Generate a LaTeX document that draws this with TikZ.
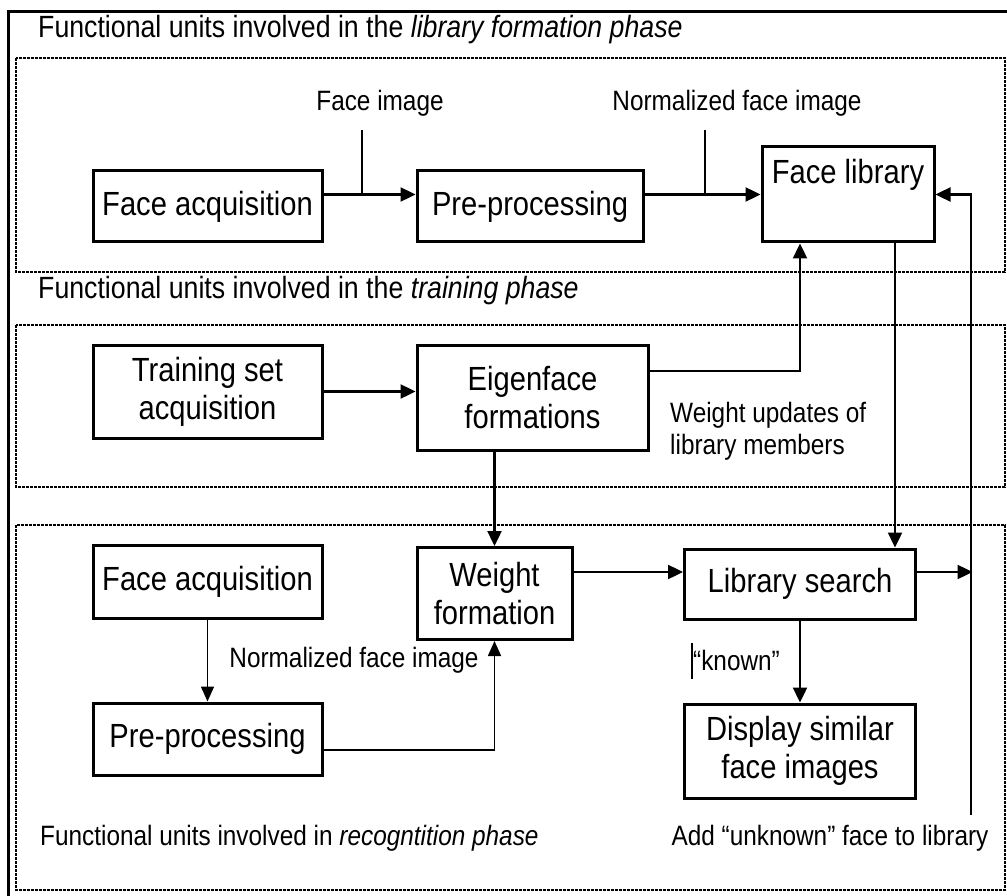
\documentclass[tikz,border=0pt]{standalone}
\usepackage{fontspec}
\setmainfont[FakeStretch=0.87]{Liberation Sans}
\usepackage{tikz}
\usetikzlibrary{arrows.meta}
\usetikzlibrary{calc}

\begin{document}
\begin{tikzpicture}[
        x=1pt, y=-1pt,
        block/.style={rectangle, draw=black, line width=3pt, minimum width=229pt, minimum height=72pt, inner sep=2pt, align=center, font=\fontsize{33.5}{38}\selectfont},
        blocktext/.style={inner sep=0pt, font=\fontsize{33.5}{38}\selectfont},
        phase/.style={anchor=west, inner sep=0pt, font=\fontsize{30.7}{36}\selectfont},
        note/.style={inner sep=0pt, font=\fontsize{28}{32}\selectfont},
        panel/.style={line width=2.2pt, dash pattern=on 3pt off 1pt},
        arrow/.style={line width=2.4pt, -{Triangle[length=15pt,width=14pt]}},
        thinarrow/.style={line width=1.6pt, -{Triangle[length=15pt,width=13pt]}},
        leader/.style={line width=1.2pt}
    ]
        \useasboundingbox (0,0) rectangle (1007,896);
        \clip (0,0) rectangle (1007,896);

        % ===== 外框与分区 =====
        \draw [line width=3pt] (1010,12) -| (8,900);
        \draw [panel] (16,58) rectangle (1005,272);
        \draw [panel] (16,325) rectangle (1005,487);
        \draw [panel] (16,525) rectangle (1005,890);

        \node (titleLib) [phase] at (38,30) {Functional units involved in the \textit{library formation phase}};
        \node (titleTrain) [phase] at (38,291) {Functional units involved in the \textit{training phase}};
        \node (titleRec) [note, anchor=west] at (40,838) {Functional units involved in \textit{recogntition phase}};

        % ===== 人脸库建立 =====
        \node (faceAcq) [block, minimum height=71pt] at (207.5,206.5) {Face acquisition};
        \node (preProc) [block, minimum width=226pt, minimum height=71pt] at (530,206.5) {Pre-processing};
        \node (faceLib) [block, minimum width=172pt, minimum height=95pt] at (848,194.5) {};
        \node (faceLibText) [blocktext] at ($(faceLib.north)+(0,29)$) {Face library};

        \node (faceImg) [note] at (380,103) {Face image};
        \node (normImg) [note] at (737,103) {Normalized face image};

        % ===== 训练 =====
        \node (trainAcq) [block, minimum height=93pt] at (207.5,391.5) {Training set\\acquisition};
        \node (eigen) [block, minimum width=231pt, minimum height=105pt] at (532.5,397.5) {Eigenface\\formations};
        \node (updates) [note, align=left, anchor=west] at (670,431) {Weight updates of\\library members};

        % ===== 识别 =====
        \node (faceAcqRec) [block, minimum height=73pt] at (207.5,582) {Face acquisition};
        \node (weightForm) [block, minimum width=155pt, minimum height=92pt] at (494.5,593.5) {Weight\\formation};
        \node (libSearch) [block, minimum width=231pt, minimum height=70pt] at (800,584) {Library search};
        \node (preProcRec) [block] at (207.5,739) {Pre-processing};
        \node (display) [block, minimum width=231pt, minimum height=94pt] at (800,751) {Display similar\\face images};

        \node (normImgRec) [note] at (354,660) {Normalized face image};
        \node (known) [note, anchor=west] at (693,660) {“known”};
        \node (addUnknown) [note] at (830,838) {Add “unknown” face to library};

        \coordinate (tapFace) at (362,194.5);
        \coordinate (tapNorm) at (705,194.5);
        \coordinate (retBottom) at (971,815);

        % ===== 箭头路径 =====
        \draw [arrow] (faceAcq.east |- faceLib) -- (preProc.west |- faceLib);
        \draw [arrow] (preProc.east |- faceLib) -- (faceLib.west);
        \draw [leader] (tapFace) -- ++(0,-64);
        \draw [leader] (tapNorm) -- ++(0,-64);

        \draw [arrow] (trainAcq.east) -- (eigen.west |- trainAcq.east);
        \draw [arrow] ([yshift=26.5pt]eigen.east) -| ([xshift=-48pt]faceLib.south);
        \draw [arrow] ([xshift=47pt]faceLib.south) -- ([xshift=95pt]libSearch.north);
        \draw [arrow] (weightForm.north |- eigen.south) -- (weightForm.north);

        \draw [arrow] ([yshift=21.5pt]weightForm.east) -- ([yshift=12pt]libSearch.west);
        \draw [arrow] ([yshift=12pt]libSearch.east) -- ++(55.5,0);
        \draw [arrow] (retBottom) |- (faceLib.east);

        \draw [thinarrow] (faceAcqRec.south) -- (preProcRec.north);
        \draw [thinarrow] ([yshift=-11pt]preProcRec.east) -| (weightForm.south);
        \draw [arrow] (libSearch.south) -- (display.north);
        \draw [leader] ([shift={(-1,-17)}]known.west) -- ([shift={(-1,19)}]known.west);

\end{tikzpicture}
\end{document}
